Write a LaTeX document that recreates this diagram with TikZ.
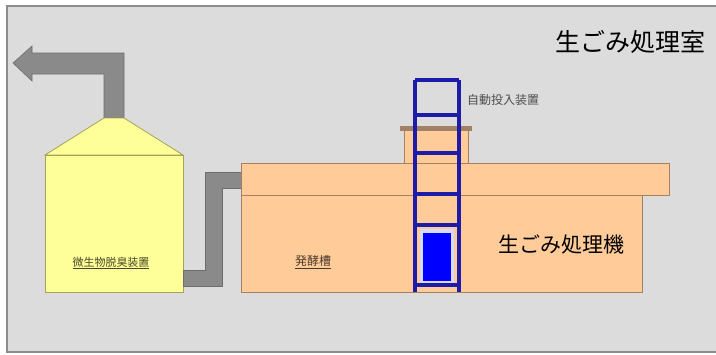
\documentclass[tikz,border=0pt]{standalone}
\usepackage{fontspec}
\newfontfamily\jp{Noto Sans CJK JP}
\usetikzlibrary{positioning}

\definecolor{roombg}{HTML}{DCDCDC}
\definecolor{roomline}{HTML}{8C8C8C}
\definecolor{ductgray}{HTML}{8A8A8A}
\definecolor{deofill}{HTML}{FFFF99}
\definecolor{deoline}{HTML}{A3A35A}
\definecolor{tankfill}{HTML}{FFCC99}
\definecolor{tankline}{HTML}{A88060}
\definecolor{ladderblue}{HTML}{1C1CA8}

\tikzset{
  duct/.style={fill=ductgray,draw=ductgray!80!black,line width=0.6pt},
  deo/.style={fill=deofill,draw=deoline,line width=0.8pt},
  tank/.style={fill=tankfill,draw=tankline,line width=0.8pt},
  rail/.style={draw=ladderblue,line width=4pt},
  smalllbl/.style={font=\jp\fontsize{11}{11}\selectfont,inner sep=1pt},
}

\begin{document}
\begin{tikzpicture}[x=1pt,y=-1pt]
  \useasboundingbox (0,0) rectangle (716,354);
  % room
  \fill[roombg] (7,6) rectangle (716,352);
  \draw[roomline,line width=1.6pt] (716,6) -- (7,6) -- (7,352) -- (716,352);
  \node[font=\jp\fontsize{25}{25}\selectfont,anchor=east] (room) at (709,42) {生ごみ処理室};

  % exhaust duct with outlet arrow
  \fill[duct] (13,63) -- (32,46) -- (32,53) -- (124,53) -- (124,118)
    -- (104,118) -- (104,74) -- (32,74) -- (32,81) -- cycle;

  % deodorizer: hood and body
  \filldraw[deo] (104,118) -- (124,118) -- (183,155) -- (45,155) -- cycle;
  \filldraw[deo] (45,155) rectangle (183,292);
  \node[smalllbl,text=deoline!45!black] (deolbl) at (111,263)
    {\underline{微生物脱臭装置}};

  % duct from tank to deodorizer
  \fill[duct] (183,270) -- (205,270) -- (205,172) -- (241,172) -- (241,188)
    -- (222,188) -- (222,286) -- (183,286) -- cycle;

  % hopper and tank
  \filldraw[tank] (404,130) rectangle (468,163);
  \fill[tankline!80!gray] (400,126) rectangle (472,131);
  \filldraw[tank] (241,195) rectangle (642,292);
  \filldraw[tank] (241,163) rectangle (669,195);
  \node[smalllbl,font=\jp\fontsize{12}{12}\selectfont,text=tankline!45!black] (tanklbl) at (313,262)
    {\underline{発酵槽}};
  \node[font=\jp\fontsize{21}{21}\selectfont,anchor=west] (machine) at (495,245) {生ごみ処理機};

  % loader
  \coordinate (lt) at (415,80);
  \coordinate (rt) at (459,80);
  \fill[blue!15!white] (420,229) rectangle (454,284);
  \fill[blue] (423,233) rectangle (451,281);
  \draw[rail] (lt) -- (415,292);
  \draw[rail] (rt) -- (459,292);
  \foreach \y in {80,115,153,194,225,285}
    \draw[rail,line width=3.5pt] (415,\y) -- (459,\y);
  \node[smalllbl,font=\jp\fontsize{12}{12}\selectfont,text=black!70,anchor=west] (loadlbl)
    at (466,100) {自動投入装置};
\end{tikzpicture}
\end{document}
